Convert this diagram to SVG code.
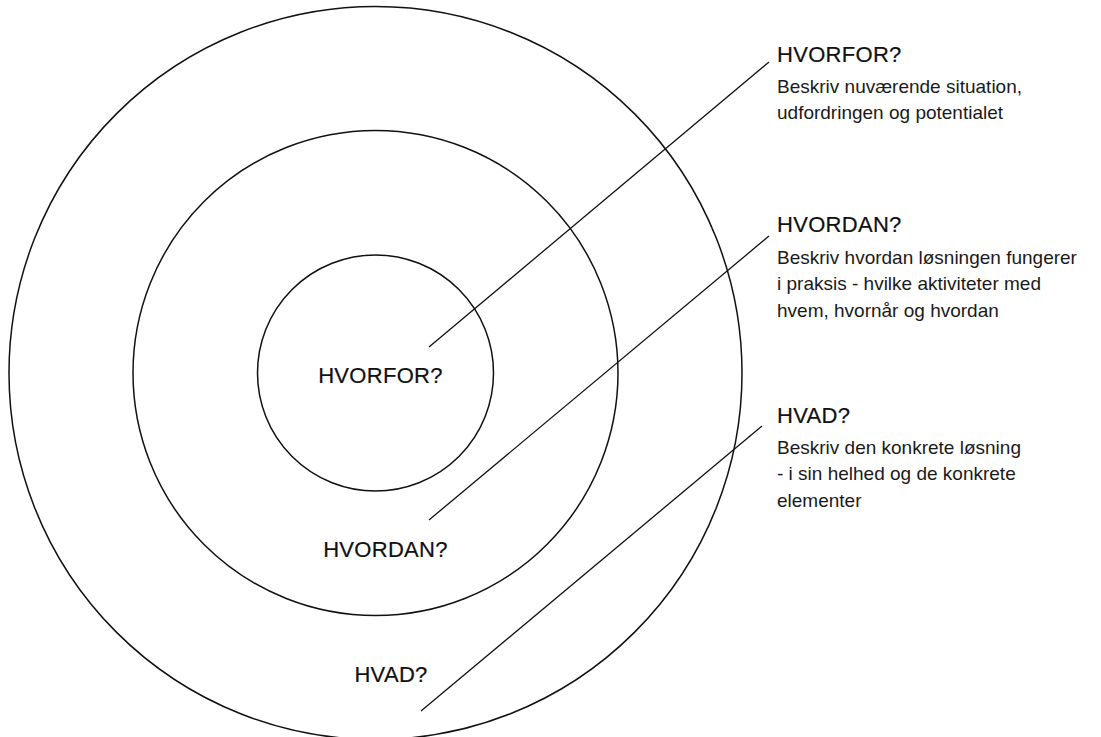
<svg xmlns="http://www.w3.org/2000/svg" width="1101" height="737" viewBox="0 0 1101 737">
  <style>
    .ring { fill: none; stroke: #111; stroke-width: 1.5; }
    .lead { stroke: #111; stroke-width: 1.3; fill: none; }
    .head { font-family: "Liberation Sans", Arial, sans-serif; font-size: 22px; fill: #111; stroke: #111; stroke-width: 0.2; letter-spacing: 0.3px; }
    .body { font-family: "Liberation Sans", Arial, sans-serif; font-size: 19px; fill: #1a1a1a; }
  </style>
  <rect width="1101" height="737" fill="#fff"/>

  <!-- concentric rings -->
  <g id="ring-hvad">
    <circle class="ring" cx="375.5" cy="373" r="366.5"/>
    <text class="head" x="391" y="682" text-anchor="middle">HVAD?</text>
  </g>
  <g id="ring-hvordan">
    <circle class="ring" cx="375.5" cy="373" r="242.5"/>
    <text class="head" x="385.5" y="557" text-anchor="middle">HVORDAN?</text>
  </g>
  <g id="ring-hvorfor">
    <circle class="ring" cx="375.5" cy="373" r="118"/>
    <text class="head" x="380.5" y="383" text-anchor="middle">HVORFOR?</text>
  </g>

  <!-- leader lines from the rings to the descriptions -->
  <g id="connectors">
    <line class="lead" x1="429" y1="347" x2="769" y2="62"/>
    <line class="lead" x1="429" y1="520" x2="769" y2="236"/>
    <line class="lead" x1="421" y1="711" x2="762" y2="426"/>
  </g>

  <!-- descriptions -->
  <g id="desc-hvorfor">
    <text class="head" x="777" y="62">HVORFOR?</text>
    <text class="body" x="777" y="93">Beskriv nuværende situation,</text>
    <text class="body" x="777" y="119">udfordringen og potentialet</text>
  </g>
  <g id="desc-hvordan">
    <text class="head" x="777" y="232">HVORDAN?</text>
    <text class="body" x="777" y="264">Beskriv hvordan løsningen fungerer</text>
    <text class="body" x="777" y="290">i praksis - hvilke aktiviteter med</text>
    <text class="body" x="777" y="317">hvem, hvornår og hvordan</text>
  </g>
  <g id="desc-hvad">
    <text class="head" x="777" y="423">HVAD?</text>
    <text class="body" x="777" y="454">Beskriv den konkrete løsning</text>
    <text class="body" x="777" y="480">- i sin helhed og de konkrete</text>
    <text class="body" x="777" y="507">elementer</text>
  </g>
</svg>
